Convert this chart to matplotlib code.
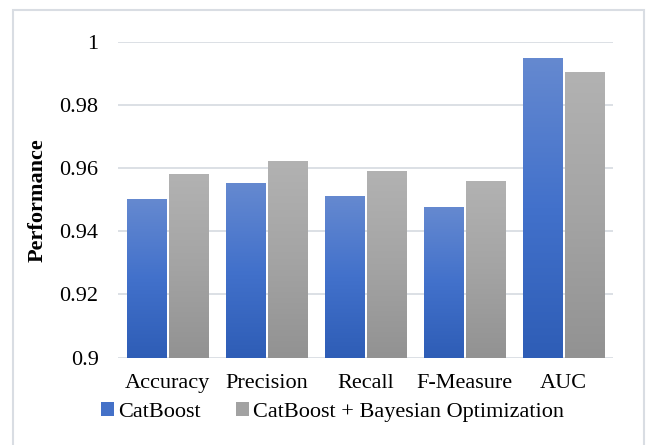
import numpy as np
from matplotlib import pyplot as plt
from matplotlib.colors import LinearSegmentedColormap
from matplotlib.patches import Rectangle

categories = ["Accuracy", "Precision", "Recall", "F-Measure", "AUC"]
catboost = [0.9502, 0.9553, 0.9512, 0.9477, 0.9948]
catboost_bo = [0.9581, 0.9622, 0.9591, 0.9559, 0.9904]
yticks = [0.9, 0.92, 0.94, 0.96, 0.98, 1.0]
ytick_labels = ["0.9", "0.92", "0.94", "0.96", "0.98", "1"]

plt.rcParams['font.family'] = ['Liberation Serif', 'DejaVu Serif']

blue_cmap = LinearSegmentedColormap.from_list(
    "blue", ["#2e5db6", "#4271cb", "#6589d0"])
gray_cmap = LinearSegmentedColormap.from_list(
    "gray", ["#929292", "#a4a4a4", "#b2b2b2"])

fig = plt.figure(figsize=(6.51, 4.45), dpi=100)
ax = fig.add_axes([118 / 651, 1 - 357.7 / 445, 495 / 651, 316 / 445])

x = np.arange(len(categories))
w = 0.394
off = 0.21
b1 = ax.bar(x - off, catboost, w, color="none", label="CatBoost")
b2 = ax.bar(x + off, catboost_bo, w, color="none",
            label="CatBoost + Bayesian Optimization")

# gradient fill for every bar
grad = np.linspace(0, 1, 256).reshape(-1, 1)
for bars, cmap in [(b1, blue_cmap), (b2, gray_cmap)]:
    for p in bars:
        x0 = p.get_x()
        ax.imshow(grad, cmap=cmap, origin="lower", aspect="auto",
                  extent=[x0, x0 + p.get_width(), 0.9, p.get_height()],
                  zorder=2)
ax.set_xlim(-0.5, len(categories) - 0.5)
ax.set_ylim(0.9, 1.0)

ax.set_yticks(yticks)
ax.set_yticklabels(ytick_labels)
ax.set_xticks(x)
ax.set_xticklabels(categories)
ax.tick_params(axis="both", length=0, labelsize=16)
ax.tick_params(axis="y", pad=14)
ax.tick_params(axis="x", pad=12)
ax.grid(axis="y", color="#d9dde3", linewidth=1.3, zorder=0)
ax.set_axisbelow(True)
for s in ax.spines.values():
    s.set_visible(False)

ax.set_ylabel("Performance", fontsize=16, fontweight="bold")
ax.yaxis.set_label_coords(-0.142, 0.5)

handles = [Rectangle((0, 0), 1, 1, facecolor="#4471c8"),
           Rectangle((0, 0), 1, 1, facecolor="#a2a2a2")]
fig.legend(handles, ["CatBoost", "CatBoost + Bayesian Optimization"],
           loc="center left", bbox_to_anchor=(101 / 651, 1 - 412 / 445),
           ncol=2, frameon=False, fontsize=16, handlelength=0.6,
           handleheight=0.6, handletextpad=0.15, columnspacing=1.6,
           borderpad=0, borderaxespad=0)

fig.patches.append(Rectangle((12.5 / 651, -0.05), 631 / 651, 1.05 - 10 / 445,
                             transform=fig.transFigure, fill=False,
                             edgecolor="#d9dde3", linewidth=1.5))

plt.savefig("out.png", dpi=100)
